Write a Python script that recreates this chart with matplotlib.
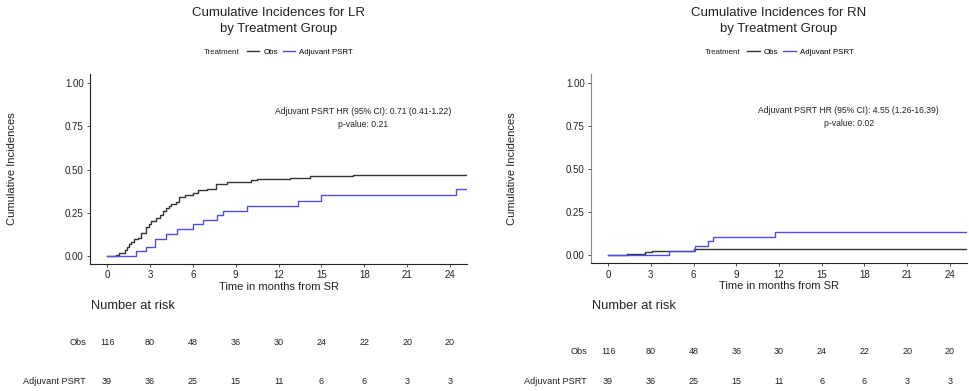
import matplotlib
matplotlib.use('Agg')
import matplotlib.pyplot as plt
from matplotlib.lines import Line2D
from matplotlib.transforms import blended_transform_factory

plt.rcParams['font.family'] = ['Liberation Sans', 'DejaVu Sans']

risk_times = [0, 3, 6, 9, 12, 15, 18, 21, 24]
groups = ["Obs", "Adjuvant PSRT"]

# LR panel (cumulative incidence step curves)
lr_obs_t = [0, 0.65, 0.84, 1.24, 1.4, 1.54, 1.7, 1.87, 2.17, 2.4, 2.75, 2.92, 3.1, 3.41,
            3.69, 3.88, 4.09, 4.32, 4.5, 4.81, 5.04, 5.46, 5.98, 6.37, 6.96, 7.61, 8.36,
            10.1, 10.46, 12.8, 14.2, 17.18, 25.2]
lr_obs_ci = [0, 0.006, 0.015, 0.035, 0.054, 0.069, 0.083, 0.098, 0.106, 0.131, 0.165, 0.185,
             0.202, 0.217, 0.235, 0.26, 0.275, 0.288, 0.298, 0.313, 0.342, 0.352, 0.365, 0.379,
             0.388, 0.417, 0.427, 0.437, 0.444, 0.452, 0.46, 0.471, 0.471]
lr_psrt_t = [0, 2.05, 2.75, 3.34, 4.09, 4.86, 5.98, 6.68, 7.66, 8.12, 9.76, 13.33, 15.0, 24.4, 25.2]
lr_psrt_ci = [0, 0.027, 0.052, 0.10, 0.129, 0.156, 0.183, 0.208, 0.237, 0.263, 0.29, 0.319,
              0.352, 0.385, 0.385]
lr_risk_obs = [116, 80, 48, 36, 30, 24, 22, 20, 20]
lr_risk_psrt = [39, 36, 25, 15, 11, 6, 6, 3, 3]

# RN panel
rn_obs_t = [0, 1.36, 2.6, 3.1, 6.0, 25.2]
rn_obs_ci = [0, 0.009, 0.018, 0.027, 0.036, 0.036]
rn_psrt_t = [0, 4.25, 6.1, 7.03, 7.4, 11.75, 25.2]
rn_psrt_ci = [0, 0.027, 0.053, 0.084, 0.109, 0.138, 0.138]
rn_risk_obs = [116, 80, 48, 36, 30, 24, 22, 20, 20]
rn_risk_psrt = [39, 36, 25, 15, 11, 6, 6, 3, 3]

panels = [
    dict(outcome="LR", obs=(lr_obs_t, lr_obs_ci), psrt=(lr_psrt_t, lr_psrt_ci),
         risk=(lr_risk_obs, lr_risk_psrt), hr="Adjuvant PSRT HR (95% CI): 0.71 (0.41-1.22)",
         p="p-value: 0.21", rect=[0.0928, 0.3248, 0.3887, 0.4859], ann_x=17.9,
         ylab_x=0.0124, obs_row=0.125, yspine='#222222'),
    dict(outcome="RN", obs=(rn_obs_t, rn_obs_ci), psrt=(rn_psrt_t, rn_psrt_ci),
         risk=(rn_risk_obs, rn_risk_psrt), hr="Adjuvant PSRT HR (95% CI): 4.55 (1.26-16.39)",
         p="p-value: 0.02", rect=[0.6093, 0.3266, 0.3876, 0.4841], ann_x=16.9,
         ylab_x=0.528, obs_row=0.102, yspine='#8a8a8a'),
]

obs_col = '#333333'
psrt_col = '#4f4fe0'
txt_col = '#222222'

fig = plt.figure(figsize=(9.7, 3.91), dpi=100)

for p in panels:
    ax = fig.add_axes(p['rect'])
    ax.step(p['obs'][0], p['obs'][1], where='post', color=obs_col, lw=1.0)
    ax.step(p['psrt'][0], p['psrt'][1], where='post', color=psrt_col, lw=1.0)
    ax.set_xlim(-1.2, 25.2)
    ax.set_ylim(-0.046, 1.052)
    ax.set_xticks(risk_times)
    ax.set_yticks([0, 0.25, 0.5, 0.75, 1.0])
    ax.set_yticklabels(['0.00', '0.25', '0.50', '0.75', '1.00'])
    for s in ['top', 'right']:
        ax.spines[s].set_visible(False)
    ax.spines['left'].set_color(p['yspine'])
    ax.spines['bottom'].set_color('#222222')
    ax.tick_params(axis='both', labelsize=7, length=2.5, width=0.6, color='#333333',
                   labelcolor=txt_col, pad=2)
    ax.set_xlabel("Time in months from SR", fontsize=8, labelpad=1, color=txt_col)

    cx = p['rect'][0] + p['rect'][2] / 2
    fig.text(cx, 0.968, "Cumulative Incidences for " + p['outcome'], ha='center', va='center',
             fontsize=9.5, color=txt_col)
    fig.text(cx, 0.925, "by Treatment Group", ha='center', va='center', fontsize=9.5,
             color=txt_col)
    fig.text(p['ylab_x'], p['rect'][1] + p['rect'][3] / 2, "Cumulative Incidences",
             rotation=90, ha='center', va='center', fontsize=8, color=txt_col)

    # legend
    handles = [Line2D([], [], color=obs_col, lw=1.0), Line2D([], [], color=psrt_col, lw=1.0)]
    leg = fig.legend(handles, groups, ncol=2, loc='center',
                     bbox_to_anchor=(cx + 0.022, 1 - 52 / 391), frameon=False, fontsize=5.7,
                     handlelength=1.6, handletextpad=0.5, columnspacing=0.6)
    fig.text(cx - 0.04, 1 - 52 / 391, "Treatment", ha='right', va='center', fontsize=5.7,
             color=txt_col)

    ax.text(p['ann_x'], 0.838, p['hr'], ha='center', va='center', fontsize=6.2, color=txt_col)
    ax.text(p['ann_x'], 0.763, p['p'], ha='center', va='center', fontsize=6.2, color=txt_col)

    # number at risk table
    tr = blended_transform_factory(ax.transData, fig.transFigure)
    fig.text(p['rect'][0] + 0.001, 1 - 306 / 391, "Number at risk", ha='left', va='center',
             fontsize=9.3, color=txt_col)
    rows = [(p['obs_row'], p['risk'][0]), (1 - 381.5 / 391, p['risk'][1])]
    for (ry, vals), name in zip(rows, groups):
        fig.text(p['rect'][0] - 0.004, ry, name, ha='right', va='center', fontsize=6.6,
                 color=txt_col)
        for t, v in zip(risk_times, vals):
            ax.text(t, ry, str(v), transform=tr, ha='center', va='center', fontsize=6.5,
                    color=txt_col, clip_on=False)

fig.savefig('out.png', dpi=100)
